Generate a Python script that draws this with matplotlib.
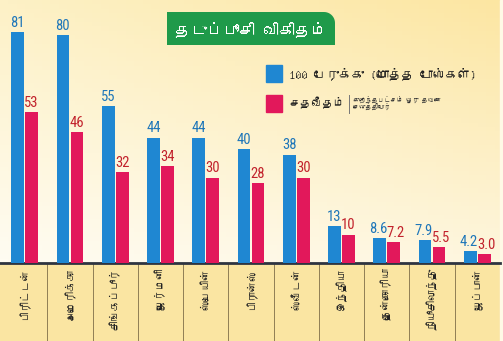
import numpy as np
import matplotlib
matplotlib.use("Agg")
import matplotlib.pyplot as plt
from matplotlib import font_manager
from matplotlib.ft2font import FT2Font
from matplotlib.patches import Rectangle, PathPatch
from matplotlib.path import Path

# data
countries = ["பிரிட்டன்", "அமெரிக்கா", "சிங்கப்பூர்", "ஜெர்மனி", "ஸ்பெயின்", "பிரான்ஸ்",
             "ஸ்வீடன்", "இந்தியா", "தென்கொரியா", "நியூசிலாந்து", "ஜப்பான்"]
per100 = [81, 80, 55, 44, 44, 40, 38, 13, 8.6, 7.9, 4.2]       # doses per 100 people
percent = [53, 46, 32, 34, 30, 28, 30, 10, 7.2, 5.5, 3.0]      # % with at least one dose
title = "தடுப்பூசி விகிதம்"
leg1 = "100 பேருக்கு (மொத்த டோஸ்கள்)"
leg2 = "சதவீதம்"
leg2_note = "குறைந்தபட்சம் ஒரு தவணை\nசெலுத்தியோர்"

# look for a font that has tamil glyphs
def findTamil():
   for f in font_manager.fontManager.ttflist:
      try:
         cm = FT2Font(f.fname).get_charmap()
      except Exception:
         continue
      if 0x0BA4 in cm and 0x0BAE in cm:
         return f.name
   return None

tamil = findTamil()
fam = [tamil, "DejaVu Sans"] if tamil else ["DejaVu Sans"]

# narrow font for the numbers
ttf = font_manager.fontManager.ttflist
numfont = dict(family="Roboto")
if any(f.name == "Liberation Sans Narrow" for f in ttf):
   numfont = dict(family="Liberation Sans Narrow")
elif any(f.name == "Roboto Condensed" for f in ttf):
   numfont = dict(family="Roboto Condensed")
elif any(f.name == "DejaVu Sans" and f.stretch == "condensed" for f in ttf):
   numfont = dict(family="DejaVu Sans", fontstretch="condensed")

W, H = 503, 341
fig = plt.figure(figsize=(W/100, H/100), dpi=100)

# background, pixel coords
bg = fig.add_axes([0, 0, 1, 1])
bg.set_xlim(0, W); bg.set_ylim(0, H); bg.axis("off")
def hex2rgb(h): return np.array([int(h[i:i+2], 16) for i in (1, 3, 5)]) / 255.
tl, tr = hex2rgb("#FDF1C6"), hex2rgb("#FCE6A2")
bl, br = hex2rgb("#FFFCF2"), hex2rgb("#FEF6DE")
u = np.linspace(0, 1, 60)[None, :, None]
v = np.linspace(0, 1, 60)[:, None, None]   # 0 top, 1 bottom
img = (1-v)*((1-u)*tl + u*tr) + v*((1-u)*bl + u*br)
bg.imshow(img, extent=[0, W, 78, H], aspect="auto", origin="upper", zorder=0)
bg.add_patch(Rectangle((0, 0), W, 78, color="#FAE5A2", zorder=1))
bg.add_patch(Rectangle((500, 0), 3, H, color="#FFF9E6", zorder=1))

x0, gw = 2, 498/11
for k in range(1, 11):
   bg.plot([x0+k*gw]*2, [0, 78], color="#8F7E55", lw=0.7, zorder=2)
bg.plot([0, 500], [78, 78], color="#2E3440", lw=2, zorder=3)

for i, c in enumerate(countries):
   bg.text(x0+(i+0.5)*gw, 73, c, rotation=90, ha="center", va="top",
           fontsize=7.5, color="#222222", family=fam, zorder=4)

# title box with rounded top-right corner
bx0, bx1, by0, by1, r = 167, 335, 296, 329, 11
th = np.linspace(np.pi/2, 0, 12)
pts = [(bx0, by0), (bx0, by1)] + [(bx1-r+r*np.cos(t), by1-r+r*np.sin(t)) for t in th] + [(bx1, by0), (bx0, by0)]
bg.add_patch(PathPatch(Path(pts), facecolor="#1F9A4A", edgecolor="none", zorder=3))
bg.text((bx0+bx1)/2, (by0+by1)/2-1, title, ha="center", va="center", fontsize=11.5,
        color="white", family=fam, zorder=4)

# legend
bg.add_patch(Rectangle((266, 259), 16, 17, color="#1F87D2", zorder=3))
bg.text(289, 267, leg1, ha="left", va="center", fontsize=9, color="#1E1E1E", family=fam, zorder=4)
bg.add_patch(Rectangle((266, 229), 16, 17, color="#E2185B", zorder=3))
bg.text(289, 238, leg2, ha="left", va="center", fontsize=8, color="#1E1E1E", family=fam, zorder=4)
bg.plot([349, 349], [228, 246], color="#777777", lw=0.7, zorder=3)
bg.text(353, 238, leg2_note, ha="left", va="center", fontsize=4.5, linespacing=1.1,
        color="#333333", family=fam, zorder=4)

# bars
ax = fig.add_axes([x0/W, 78/H, 498/W, 263/H])
ax.patch.set_alpha(0)
ax.set_xlim(0, 11); ax.set_ylim(0, 263/2.85)
ax.axis("off")
xs = np.arange(len(countries)) + 0.5
bw, off = 0.28, 0.155
ax.bar(xs-off, per100, bw, color="#1F87D2")
ax.bar(xs+off, percent, bw, color="#E2185B")
fmt = lambda val: f"{val:.1f}" if val < 10 else f"{val:.0f}"
for x, a, b in zip(xs, per100, percent):
   nudge = 0.04 if a < 10 else 0
   ax.text(x-off-nudge, a+0.8, fmt(a), ha="center", va="bottom", fontsize=10.5, color="#1E76B9", **numfont)
   ax.text(x+off+nudge, b+0.8, fmt(b), ha="center", va="bottom", fontsize=10.5, color="#C2222C", **numfont)

fig.savefig("out.png", dpi=100)
